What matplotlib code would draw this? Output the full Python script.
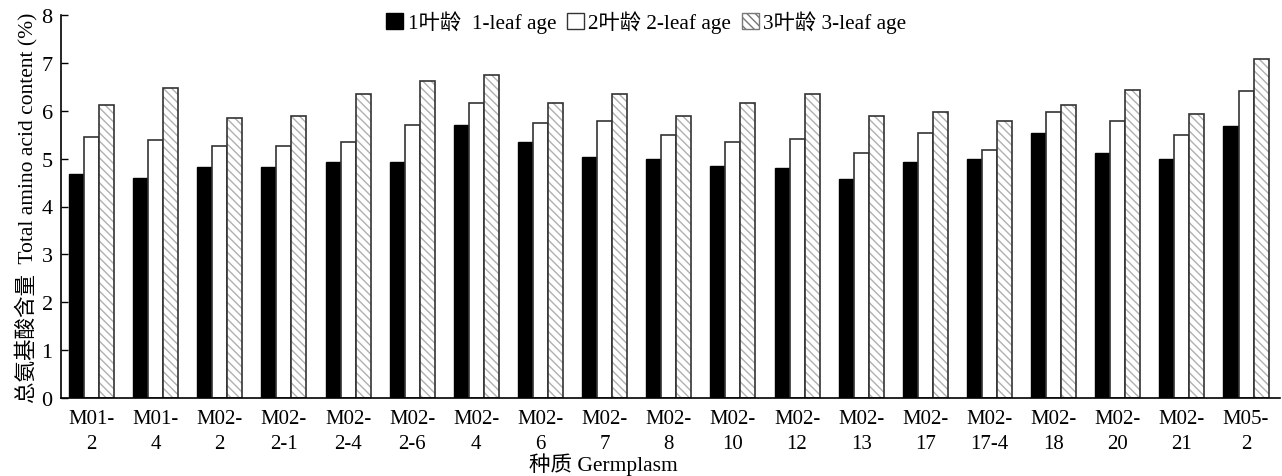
import matplotlib
matplotlib.use("Agg")
import matplotlib.pyplot as plt
import numpy as np
from matplotlib.patches import Patch

plt.rcParams.update({
    "font.family": ["Liberation Serif", "Noto Sans CJK SC"],
    "axes.linewidth": 1.2,
    "hatch.linewidth": 1.0,
})

# ---------- data ----------
germplasm = ["M01-\n2", "M01-\n4", "M02-\n2", "M02-\n2-1", "M02-\n2-4", "M02-\n2-6",
             "M02-\n4", "M02-\n6", "M02-\n7", "M02-\n8", "M02-\n10", "M02-\n12",
             "M02-\n13", "M02-\n17", "M02-\n17-4", "M02-\n18", "M02-\n20", "M02-\n21",
             "M05-\n2"]
leaf1 = [4.67, 4.60, 4.83, 4.83, 4.92, 4.92, 5.70, 5.35, 5.04, 5.00,
         4.84, 4.80, 4.57, 4.92, 5.00, 5.54, 5.11, 5.00, 5.69]
leaf2 = [5.46, 5.38, 5.26, 5.26, 5.35, 5.70, 6.16, 5.74, 5.78, 5.50,
         5.34, 5.42, 5.11, 5.54, 5.19, 5.97, 5.78, 5.50, 6.42]
leaf3 = [6.12, 6.47, 5.85, 5.88, 6.36, 6.63, 6.75, 6.16, 6.36, 5.88,
         6.16, 6.36, 5.88, 5.97, 5.78, 6.12, 6.43, 5.93, 7.08]
series_labels = ["1叶龄  1-leaf age", "2叶龄 2-leaf age", "3叶龄 3-leaf age"]

EDGE = "#333333"
HATCH = "#b0b0b0"

fig = plt.figure(figsize=(12.82, 4.77), dpi=100)
ax = fig.add_axes([61 / 1282, 1 - 399 / 477, 1219 / 1282, 383 / 477])

x = np.arange(len(germplasm))
w = 0.234
ax.bar(x - w, leaf1, width=w, color="black", edgecolor="black", linewidth=1.0)
ax.bar(x, leaf2, width=w, color="white", edgecolor=EDGE, linewidth=1.2)
# hatch layer (gray lines) then dark outline on top
ax.bar(x + w, leaf3, width=w, color="white", edgecolor=HATCH, linewidth=0,
       hatch="\\\\\\\\")
ax.bar(x + w, leaf3, width=w, facecolor="none", edgecolor=EDGE, linewidth=1.2)

ax.set_xlim(-0.475, len(germplasm) - 1 + 0.53)
ax.set_ylim(0, 8)
ax.set_yticks(np.arange(0, 9, 1))
ax.tick_params(axis="y", direction="in", length=5, width=1.0, labelsize=16, pad=6)
ax.set_xticks(x)
ax.set_xticklabels(germplasm, fontsize=15, linespacing=1.45)
ax.tick_params(axis="x", length=0, pad=8)
ax.spines["top"].set_visible(False)
ax.spines["right"].set_visible(False)

ax.set_ylabel("总氨基酸含量  Total amino acid content (%)", fontsize=15.5, labelpad=3)
ax.set_xlabel("种质 Germplasm", fontsize=15.5, va="center")
ax.xaxis.set_label_coords(0.445, -0.172)

handles = [
    Patch(facecolor="black", edgecolor="black"),
    Patch(facecolor="white", edgecolor=EDGE),
    Patch(facecolor="white", edgecolor="#777777", hatch="\\\\\\\\"),
]
fig.legend(handles, series_labels, loc="center", bbox_to_anchor=(0.504, 0.952),
           ncol=3, frameon=False, fontsize=15.3, handlelength=0.8, handleheight=0.8,
           handletextpad=0.2, columnspacing=0.5)

fig.savefig("out.png", dpi=100)
